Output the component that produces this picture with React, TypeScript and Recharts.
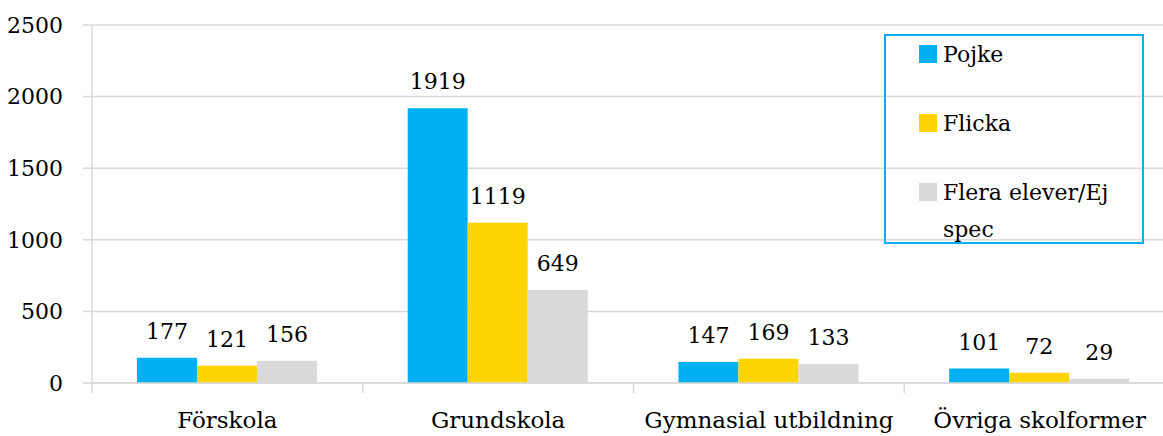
import { BarChart, Bar, XAxis, YAxis, CartesianGrid, Legend, LabelList } from "recharts";

const categories = ["Förskola", "Grundskola", "Gymnasial utbildning", "Övriga skolformer"];
const pojke = [177, 1919, 147, 101];
const flicka = [121, 1119, 169, 72];
const flera = [156, 649, 133, 29];
const seriesNames = ["Pojke", "Flicka", "Flera elever/Ej spec"];
const yTicks = [0, 500, 1000, 1500, 2000, 2500];

const COLORS = ["#00B0F0", "#FFD400", "#D9D9D9"];
const FONT = "'DejaVu Serif', serif";
const FS = 22;
const GRID = "#D9D9D9";
const CHART_W = 1175;
const CHART_H = 436;
const Y_W = 92;

const data = categories.map((c, i) => ({
  name: c,
  pojke: pojke[i],
  flicka: flicka[i],
  flera: flera[i],
}));

// category label + boundary tick mark (ticks sit between categories, not at centres)
function CategoryTick(props: any) {
  const { x, y, payload } = props;
  const half = payload?.offset ?? (CHART_W - Y_W) / categories.length / 2;
  const lx = x - half;
  return (
    <g>
      <line x1={lx} y1={y} x2={lx} y2={y + 10} stroke={GRID} strokeWidth={1.5} />
      <text x={x} y={y + 45} textAnchor="middle" fill="#000" fontSize={23} fontFamily={FONT}>
        {payload.value}
      </text>
    </g>
  );
}

function LegendBox() {
  return (
    <div
      style={{
        width: 260,
        height: 210,
        border: "2px solid #00B0F0",
        fontFamily: FONT,
        fontSize: FS,
        color: "#000",
        boxSizing: "border-box",
        textAlign: "left",
      }}
    >
      {seriesNames.map((n, i) => (
        <div
          key={n}
          style={{ display: "flex", alignItems: "flex-start", lineHeight: "37px", marginBottom: 32 }}
        >
          <span
            style={{
              display: "inline-block",
              width: 18,
              height: 18,
              background: COLORS[i],
              marginLeft: 33,
              marginTop: 9,
              marginRight: 6,
              flexShrink: 0,
            }}
          />
          <span style={{ maxWidth: 190 }}>{n}</span>
        </div>
      ))}
    </div>
  );
}

export default function App() {
  return (
    <div style={{ position: "absolute", left: 0, top: 0, width: 1163, height: 436, overflow: "hidden", background: "#fff" }}>
      <BarChart
        width={CHART_W}
        height={CHART_H}
        data={data}
        margin={{ top: 25, right: 0, left: 0, bottom: 0 }}
        barCategoryGap="16.6%"
        barGap={0}
      >
        <CartesianGrid vertical={false} stroke={GRID} strokeWidth={1.5} />
        <XAxis
          dataKey="name"
          height={53}
          axisLine={{ stroke: GRID, strokeWidth: 1.5 }}
          tickLine={false}
          tickSize={0}
          tickMargin={0}
          interval={0}
          tick={<CategoryTick />}
        />
        <YAxis
          width={Y_W}
          domain={[0, 2500]}
          ticks={yTicks}
          interval={0}
          axisLine={{ stroke: GRID, strokeWidth: 1.5 }}
          tickLine={{ stroke: GRID, strokeWidth: 1.5 }}
          tickSize={9}
          tickMargin={20}
          tick={{ fill: "#000", fontSize: FS, fontFamily: FONT }}
        />
        <Legend
          layout="horizontal"
          verticalAlign="middle"
          align="center"
          content={() => <LegendBox />}
          wrapperStyle={{ position: "absolute", top: 34, left: 884, width: 260, height: 210 }}
        />
        <Bar dataKey="pojke" name={seriesNames[0]} fill={COLORS[0]} isAnimationActive={false}>
          <LabelList dataKey="pojke" position="top" offset={19} fill="#000" fontSize={FS} fontFamily={FONT} />
        </Bar>
        <Bar dataKey="flicka" name={seriesNames[1]} fill={COLORS[1]} isAnimationActive={false}>
          <LabelList dataKey="flicka" position="top" offset={19} fill="#000" fontSize={FS} fontFamily={FONT} />
        </Bar>
        <Bar dataKey="flera" name={seriesNames[2]} fill={COLORS[2]} isAnimationActive={false}>
          <LabelList dataKey="flera" position="top" offset={19} fill="#000" fontSize={FS} fontFamily={FONT} />
        </Bar>
      </BarChart>
    </div>
  );
}
